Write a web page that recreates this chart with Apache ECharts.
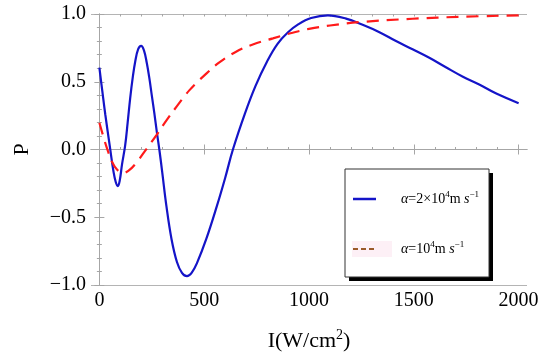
<!DOCTYPE html>
<html>
<head>
<meta charset="utf-8">
<script src="https://cdn.jsdelivr.net/npm/echarts@6/dist/echarts.min.js"></script>
<style>html,body{margin:0;padding:0;background:#fff}#c{width:550px;height:358px}</style>
</head>
<body>
<div id="c"></div>
<script>
// Blue curve: alpha = 2x10^4 m s^-1  [I, P]
const blueData = [
  [0,0.605],[14,0.43],[28,0.26],[51,0.01],[67,-0.16],[78,-0.24],[88,-0.27],[97,-0.23],[108,-0.11],
  [123,0.03],[135,0.2],[147,0.38],[159,0.53],[171,0.65],[185,0.74],[199,0.765],[213,0.73],[226,0.64],
  [238,0.53],[250,0.4],[262,0.27],[274,0.13],[286,0.0],[300,-0.17],[320,-0.42],[344,-0.66],
  [370,-0.83],[394,-0.91],[418,-0.935],[440,-0.91],[465,-0.84],[510,-0.66],[560,-0.42],[600,-0.21],
  [637,0.0],[693,0.26],[745,0.47],[800,0.65],[850,0.78],[900,0.865],[950,0.925],[1010,0.97],
  [1090,0.99],[1177,0.966],[1256,0.92],[1336,0.866],[1415,0.80],[1494,0.74],[1574,0.677],
  [1653,0.607],[1732,0.539],[1812,0.48],[1891,0.415],[2000,0.342]
];
// Red dashed curve: alpha = 10^4 m s^-1
const redData = [
  [0,0.197],[18,0.1],[36,0.01],[60,-0.09],[85,-0.15],[112,-0.172],[138,-0.158],[170,-0.11],
  [218,-0.01],[274,0.11],[320,0.215],[370,0.32],[431,0.44],[510,0.56],[574,0.645],[650,0.72],
  [732,0.775],[828,0.82],[907,0.856],[1000,0.89],[1100,0.915],[1240,0.94],[1494,0.965],
  [1732,0.98],[2000,0.99]
];
const xMajor = [0,500,1000,1500,2000];
const xMinor = [0,100,200,300,400,500,600,700,800,900,1000,1100,1200,1300,1400,1500,1600,1700,1800,1900,2000];
const legendNames = ['α=2×10⁴m s⁻¹','α=10⁴m s⁻¹'];

const FONT = 'Liberation Serif';
const FRAME = '#a6a6a6';
const chart = echarts.init(document.getElementById('c'));

function xAx(pos, ticks, len, showLine, showLabel) {
  return {
    type:'value', min:-40, max:2040, position:pos,
    axisLine:{show:showLine, lineStyle:{color:FRAME, width:1}},
    axisTick:{show:true, inside:true, length:len, customValues:ticks, lineStyle:{color:FRAME}},
    axisLabel:{show:showLabel, customValues:xMajor, fontFamily:FONT, fontSize:20, color:'#000', margin:6,
      formatter:v=>String(v)},
    splitLine:{show:false}
  };
}
function yAx(pos, showLabel) {
  return {
    type:'value', min:-1, max:1, interval:0.5, position:pos,
    axisLine:{show:true, lineStyle:{color:FRAME, width:1}},
    axisTick:{show:true, inside:true, length:5, lineStyle:{color:FRAME}},
    minorTick:{show:true, splitNumber:5, length:2.5, lineStyle:{color:FRAME}},
    axisLabel:{show:showLabel, fontFamily:FONT, fontSize:20, color:'#000', margin:5,
      formatter:v=>v.toFixed(1).replace('-', '\u2212')},
    splitLine:{show:false}
  };
}
const xa0 = xAx('bottom', xMajor, 5, true, true);
xa0.name = '{n|I(W/cm}{s|2}{n|)}';
xa0.nameLocation = 'middle';
xa0.nameGap = 43;
xa0.nameTextStyle = {fontFamily:FONT, fontSize:22, color:'#000', rich:{
  n:{fontFamily:FONT, fontSize:22, color:'#000', lineHeight:26},
  s:{fontFamily:FONT, fontSize:14, color:'#000', verticalAlign:'top', lineHeight:14}
}};
const ya0 = yAx('left', true);
ya0.name = 'P';
ya0.nameLocation = 'middle';
ya0.nameGap = 58;
ya0.nameTextStyle = {fontFamily:FONT, fontSize:22, color:'#000'};

const zeroAxis = {type:'value', min:-1, max:1, interval:1, position:'left',
  axisLine:{show:false}, axisTick:{show:false}, axisLabel:{show:false},
  splitLine:{show:true, lineStyle:{color:'#b4b4b4', width:1}}};

const richL = {
  a:{fontFamily:FONT, fontSize:14, fontStyle:'italic', color:'#000', lineHeight:18},
  n:{fontFamily:FONT, fontSize:14, color:'#000', lineHeight:18},
  s:{fontFamily:FONT, fontSize:9, color:'#000', verticalAlign:'top', lineHeight:10},
  i:{fontFamily:FONT, fontSize:14, fontStyle:'italic', color:'#000', lineHeight:18}
};

chart.setOption({
  animation:false,
  backgroundColor:'#fff',
  grid:{left:91, right:23, top:14, bottom:73},
  xAxis:[xa0, xAx('bottom', xMinor, 2.5, false, false), xAx('top', xMajor, 5, true, false), xAx('top', xMinor, 2.5, false, false)],
  yAxis:[ya0, yAx('right', false), zeroAxis],
  series:[
    {name:legendNames[0], type:'line', data:blueData, smooth:0.4, showSymbol:false, symbol:'none',
     lineStyle:{color:'#1414c8', width:2.2}, z:3},
    {name:legendNames[1], type:'line', data:redData, smooth:0.4, showSymbol:false, symbol:'none',
     lineStyle:{color:'#ff1a1a', width:2.2, type:[12,8]}, z:4}
  ],
  graphic:[
    {type:'rect', shape:{x:349, y:173, width:144, height:108}, style:{fill:'#000'}, z:10},
    {type:'rect', shape:{x:345, y:169, width:144, height:108}, style:{fill:'#fff', stroke:'#333', lineWidth:1}, z:11},
    {type:'line', shape:{x1:353, y1:199, x2:376, y2:199}, style:{stroke:'#1414c8', lineWidth:2.5}, z:12},
    {type:'text', style:{x:401, y:199, text:'{a|α}{n|=2×10}{s|4}{n|m }{i|s}{s|−1}', rich:richL, verticalAlign:'middle'}, z:12},
    {type:'rect', shape:{x:352, y:241, width:40, height:16}, style:{fill:'#fdf0f6'}, z:12},
    {type:'line', shape:{x1:353, y1:249, x2:377, y2:249}, style:{stroke:'#9a5a2a', lineWidth:2, lineDash:[5,3]}, z:13},
    {type:'text', style:{x:401, y:249, text:'{a|α}{n|=10}{s|4}{n|m }{i|s}{s|−1}', rich:richL, verticalAlign:'middle'}, z:12}
  ]
});
</script>
</body>
</html>
